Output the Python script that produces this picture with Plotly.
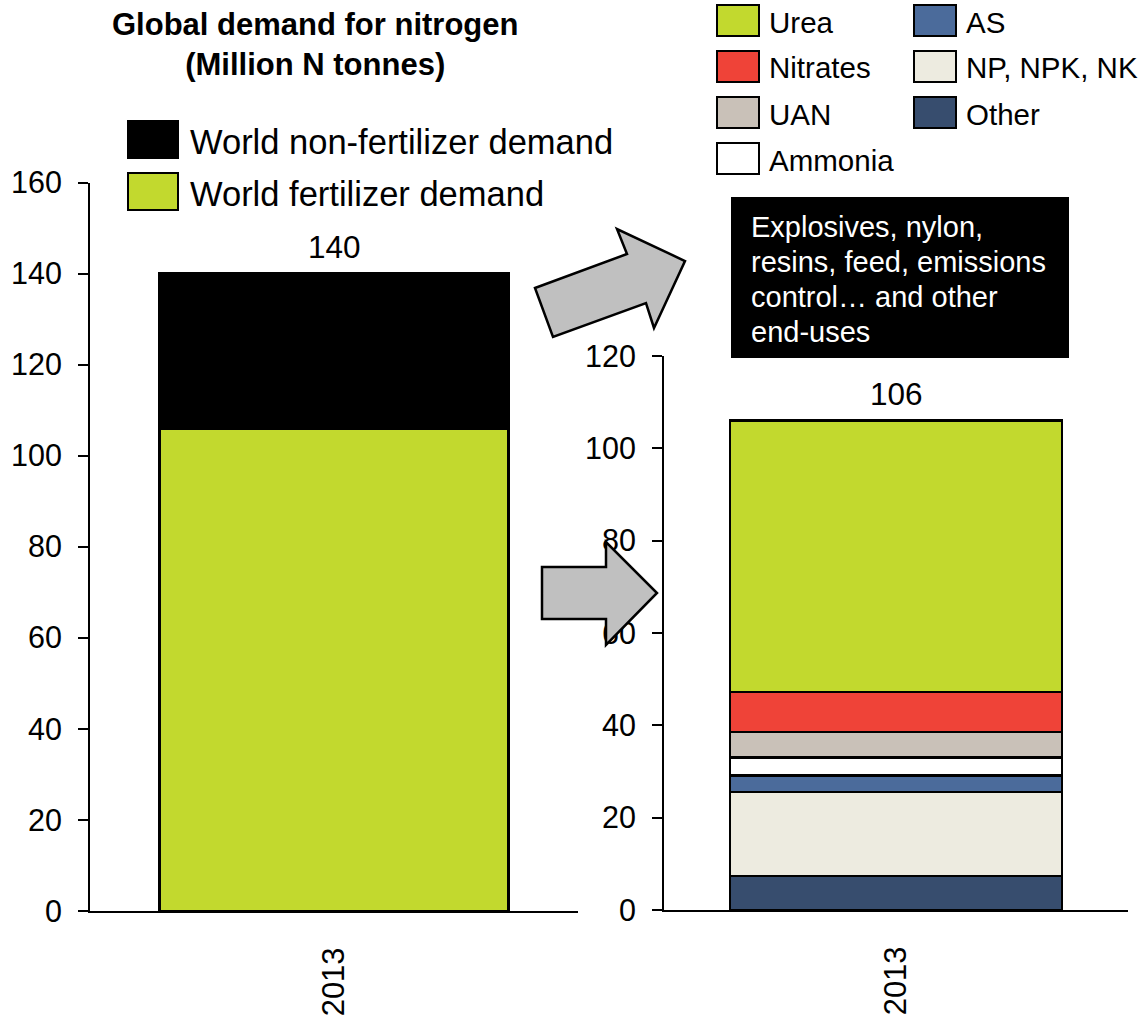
import plotly.graph_objects as go

W, H = 1145, 1020
FONT = "Liberation Sans, Arial, sans-serif"

# ---- data -------------------------------------------------------------
years = ["2013"]

# total nitrogen demand split (bottom to top)
total_names = ["World fertilizer demand", "World non-fertilizer demand"]
total_values = [106, 34]
total_colors = ["#c2d92e", "#000000"]

# fertilizer demand by product (bottom to top)
product_names = ["Other", "NP, NPK, NK", "AS", "Ammonia", "UAN", "Nitrates", "Urea"]
product_values = [7.4, 18.2, 3.5, 3.9, 5.6, 8.6, 58.8]
product_colors = ["#374d6e", "#edebe0", "#4b6b9b", "#ffffff", "#c9c1b8", "#ef4338", "#c2d92e"]

# legend layout for the product chart
legend_col1 = ["Urea", "Nitrates", "UAN", "Ammonia"]
legend_col2 = ["AS", "NP, NPK, NK", "Other"]

end_uses = ["Explosives, nylon,", "resins, feed, emissions", "control\u2026 and other", "end-uses"]

left_ticks = [0, 20, 40, 60, 80, 100, 120, 140, 160]
right_ticks = [0, 20, 40, 60, 80, 100, 120]


def px(x):
    return x / W


def py(y):
    return 1 - y / H


fig = go.Figure()

for name, val, col in zip(total_names, total_values, total_colors):
    fig.add_trace(go.Bar(x=years, y=[val], name=name, xaxis="x", yaxis="y",
                         marker=dict(color=col, line=dict(color="black", width=2.5)),
                         showlegend=False))

for name, val, col in zip(product_names, product_values, product_colors):
    fig.add_trace(go.Bar(x=years, y=[val], name=name, xaxis="x2", yaxis="y2",
                         marker=dict(color=col, line=dict(color="black", width=2.5)),
                         showlegend=False))

axis_common = dict(showline=True, linecolor="black", linewidth=2, showgrid=False,
                   zeroline=False, automargin=False)
xtick_font = dict(family=FONT, size=31, color="black")
ytick_font = dict(family=FONT, size=30.5, color="black")

fig.update_layout(
    width=W, height=H, margin=dict(l=0, r=0, t=0, b=0),
    paper_bgcolor="white", plot_bgcolor="white",
    barmode="stack", bargap=0.284,
    xaxis=dict(domain=[px(90), px(578)], anchor="y", type="category", range=[-0.5, 0.5],
               ticks="", tickangle=-90, ticklabelstandoff=22, tickfont=xtick_font,
               **axis_common),
    yaxis=dict(domain=[py(911), py(182.5)], anchor="x", range=[0, 160],
               tickvals=left_ticks, ticks="outside", ticklen=10, tickwidth=2,
               tickcolor="black", ticklabelstandoff=10, tickfont=ytick_font,
               **axis_common),
    xaxis2=dict(domain=[px(664), px(1128)], anchor="y2", type="category", range=[-0.5, 0.5],
                ticks="", tickangle=-90, ticklabelstandoff=22, tickfont=xtick_font,
                **axis_common),
    yaxis2=dict(domain=[py(910), py(356)], anchor="x2", range=[0, 120],
                tickvals=right_ticks, ticks="outside", ticklen=10, tickwidth=2,
                tickcolor="black", ticklabelstandoff=10, tickfont=ytick_font,
                **axis_common),
)

annotations = []
shapes = []

# bar totals, placed over the single category of each chart
annotations.append(dict(x=0, y=sum(total_values), xref="x", yref="y",
                        text=f"{round(sum(total_values))}", showarrow=False,
                        yanchor="bottom", yshift=7,
                        font=dict(family=FONT, size=31.5, color="black")))
annotations.append(dict(x=0, y=sum(product_values), xref="x2", yref="y2",
                        text=f"{round(sum(product_values))}", showarrow=False,
                        yanchor="bottom", yshift=7,
                        font=dict(family=FONT, size=31.5, color="black")))

# title
annotations.append(dict(x=px(315), y=py(45), xref="paper", yref="paper",
                        text="<b>Global demand for nitrogen<br>(Million N tonnes)</b>",
                        showarrow=False, xanchor="center", yanchor="middle",
                        font=dict(family=FONT, size=31, color="black")))

# legend of the total chart (top entry first)
for i, name in enumerate(reversed(total_names)):
    col = total_colors[total_names.index(name)]
    top = 121 + i * 52
    shapes.append(dict(type="rect", xref="paper", yref="paper",
                       x0=px(128), x1=px(178), y0=py(top), y1=py(top + 37),
                       fillcolor=col, line=dict(color="black", width=2)))
    annotations.append(dict(x=px(188), y=py(top + 21), xref="paper", yref="paper",
                            text=name, showarrow=False, xanchor="left", yanchor="middle",
                            font=dict(family=FONT, size=34.5, color="black")))

# legend of the product chart
for cx, names in ((717, legend_col1), (914, legend_col2)):
    for i, name in enumerate(names):
        col = product_colors[product_names.index(name)]
        top = 5 + i * 46
        shapes.append(dict(type="rect", xref="paper", yref="paper",
                           x0=px(cx), x1=px(cx + 42), y0=py(top), y1=py(top + 31),
                           fillcolor=col, line=dict(color="black", width=2)))
        annotations.append(dict(x=px(cx + 50), y=py(top + 17), xref="paper", yref="paper",
                                text=name, showarrow=False, xanchor="left", yanchor="middle",
                                font=dict(family=FONT, size=29.5, color="black")))

# end-use note box
shapes.append(dict(type="rect", xref="paper", yref="paper",
                   x0=px(731), x1=px(1069), y0=py(197), y1=py(358),
                   fillcolor="black", line=dict(width=0)))
for i, line in enumerate(end_uses):
    annotations.append(dict(x=px(749), y=py(227 + i * 35), xref="paper", yref="paper",
                            text=line, showarrow=False, xanchor="left", yanchor="middle",
                            font=dict(family=FONT, size=29, color="white")))


def block_arrow(points):
    d = "M " + " L ".join(f"{px(x):.5f},{py(y):.5f}" for x, y in points) + " Z"
    return dict(type="path", xref="paper", yref="paper", path=d, layer="above",
                fillcolor="#c0c0c0", line=dict(color="black", width=2.5))


# arrow pointing to the non-fertilizer note
shapes.append(block_arrow([(535, 288), (627, 254), (617, 229), (685, 261),
                           (654, 328), (646, 303), (553, 337)]))
# arrow pointing to the fertilizer breakdown
shapes.append(block_arrow([(542, 567), (606, 567), (606, 542), (657, 593),
                           (606, 645), (606, 619), (542, 619)]))

fig.update_layout(annotations=annotations, shapes=shapes)

fig.write_html("out.html")
